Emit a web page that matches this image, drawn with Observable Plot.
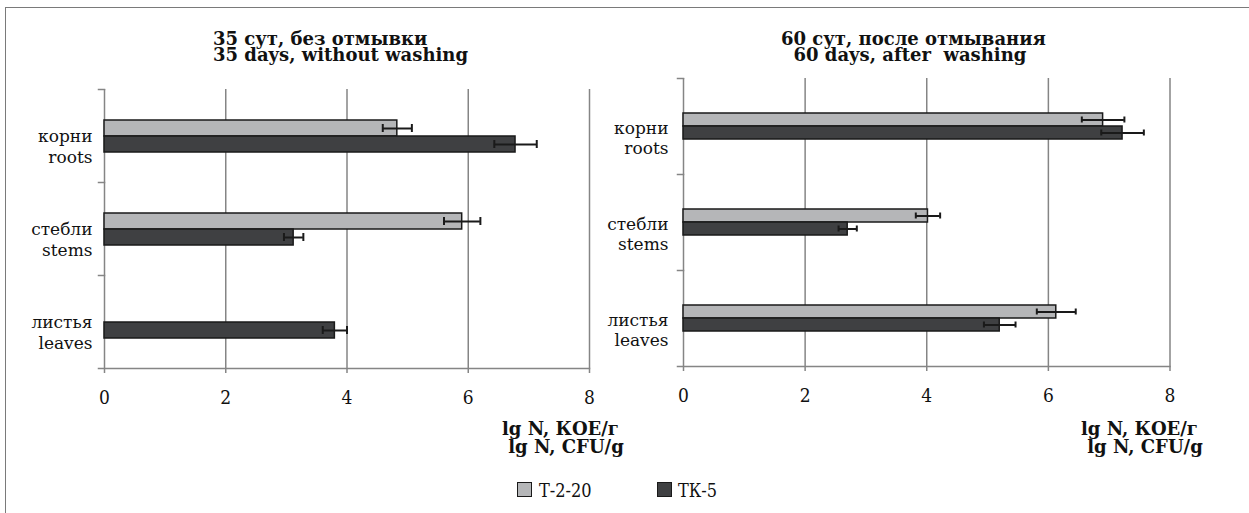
<!DOCTYPE html>
<html><head><meta charset="utf-8">
<script src="https://cdn.jsdelivr.net/npm/d3@7"></script>
<script src="https://cdn.jsdelivr.net/npm/@observablehq/plot@0.6"></script>
<style>
body{margin:0;background:#fff;}
#root{position:relative;width:1249px;height:513px;overflow:hidden;font-family:"DejaVu Serif Condensed","DejaVu Serif",serif;color:#111;background:#fff;}
.frame{position:absolute;left:5px;top:7px;width:1300px;height:600px;border-left:1.5px solid #7a7a7a;border-top:1.5px solid #7a7a7a;}
.line{position:absolute;white-space:pre;font-family:"DejaVu Serif",serif;font-weight:bold;}
.title{font-size:18px;line-height:16px;}
.axlab{font-size:18px;line-height:18px;}
.panel{position:absolute;}
.sw{position:absolute;width:13px;height:13px;border:1.5px solid #1a1a1a;}
.legtx{position:absolute;font-size:18px;line-height:18px;white-space:pre;}
</style></head>
<body><div id="root"><div class="frame"></div></div>
<script>
// ---- data ----
const categoriesRu = ["корни", "стебли", "листья"];
const categoriesEn = ["roots", "stems", "leaves"];
const series = ["Т-2-20", "ТК-5"];
const seriesColors = ["#b5b6b8", "#3f4042"];
const xTicks = [0, 2, 4, 6, 8];

// panel 1: 35 days, without washing
const p1_T220 = [4.83, 5.9, null];
const p1_T220_err = [0.24, 0.3, null];
const p1_TK5 = [6.78, 3.12, 3.8];
const p1_TK5_err = [0.35, 0.16, 0.2];

// panel 2: 60 days, after washing
const p2_T220 = [6.9, 4.02, 6.13];
const p2_T220_err = [0.35, 0.2, 0.32];
const p2_TK5 = [7.22, 2.7, 5.2];
const p2_TK5_err = [0.35, 0.15, 0.26];

const titles = ["35 сут, без отмывки\n35 days, without washing", "60 сут, после отмывания\n  60 days, after  washing"];
const axisLabel = "lg N, КОЕ/г\n lg N, CFU/g";

function rowsFor(a, ae, b, be) {
  const rows = [];
  categoriesEn.forEach((c, i) => {
    if (a[i] != null) rows.push({category: c, series: series[0], value: a[i], err: ae[i]});
    if (b[i] != null) rows.push({category: c, series: series[1], value: b[i], err: be[i]});
  });
  return rows;
}

function panel(rows, g) {
  const plotW = g.width - g.ml - g.mr;
  const ink = "#1a1a1a", grid = "#858585";
  return Plot.plot({
    width: g.width, height: g.height,
    marginLeft: g.ml, marginRight: g.mr, marginTop: g.mt, marginBottom: g.mb,
    style: {fontFamily: '"DejaVu Serif Condensed","DejaVu Serif",serif', fontSize: "19px", color: "#111", background: "transparent", overflow: "visible"},
    x: {domain: [0, 8]},
    y: {domain: series, axis: null, paddingInner: 0, paddingOuter: g.po},
    fy: {domain: categoriesEn, axis: null, padding: 0},
    color: {domain: series, range: seriesColors},
    marks: [
      Plot.ruleX(xTicks.slice(1), {stroke: grid, strokeWidth: 1.5}),
      Plot.ruleX([0], {stroke: grid, strokeWidth: 1.5}),
      Plot.frame({anchor: "top", stroke: grid, strokeWidth: 1.5, insetLeft: -6, insetRight: plotW}),
      Plot.frame({anchor: "bottom", facetAnchor: "bottom", stroke: grid, strokeWidth: 1.5, insetLeft: -6}),
      Plot.axisX({ticks: xTicks, label: null, tickSize: 5, tickPadding: 17, stroke: grid, strokeWidth: 1.5, fill: "#111", fontSize: 19, tickFormat: d => String(d)}),
      Plot.barX(rows, {fy: "category", y: "series", x: "value", fill: "series", stroke: ink, strokeWidth: 1.5}),
      Plot.ruleY(rows, {fy: "category", y: "series", x1: d => d.value - d.err, x2: d => d.value + d.err, stroke: ink, strokeWidth: 2}),
      Plot.tickX(rows, {fy: "category", y: "series", x: d => d.value - d.err, stroke: ink, strokeWidth: 2, insetTop: g.cap, insetBottom: g.cap}),
      Plot.tickX(rows, {fy: "category", y: "series", x: d => d.value + d.err, stroke: ink, strokeWidth: 2, insetTop: g.cap, insetBottom: g.cap}),
      Plot.text(categoriesEn, {fy: d => d, text: (d, i) => categoriesRu[i] + "\n" + d, frameAnchor: "left", textAnchor: "end", dx: g.dx, dy: g.dy, lineHeight: 1.2, fontSize: 17, fontFamily: '"DejaVu Serif",serif', fill: "#111"})
    ]
  });
}

const root = document.getElementById("root");
function add(el, css) { Object.assign(el.style, css); root.appendChild(el); return el; }

const g1 = {width: 620, height: 360, ml: 104, mr: 31, mt: 28, mb: 52, po: 1.83, cap: 4, dx: -12, dy: 10};
const g2 = {width: 620, height: 369, ml: 83, mr: 50.5, mt: 27, mb: 52, po: 2.45, cap: 3.5, dx: -15, dy: 11};

const s1 = panel(rowsFor(p1_T220, p1_T220_err, p1_TK5, p1_TK5_err), g1);
s1.classList.add("panel"); add(s1, {left: "0px", top: "60px"});
const s2 = panel(rowsFor(p2_T220, p2_T220_err, p2_TK5, p2_TK5_err), g2);
s2.classList.add("panel"); add(s2, {left: "600px", top: "50px"});

// panel titles
[[213, 31], [781, 31]].forEach(([l, t], i) => {
  const d = document.createElement("div");
  d.className = "line title"; d.textContent = titles[i];
  add(d, {left: l + "px", top: t + "px"});
});
// x-axis titles
[[502, 420], [1081, 420]].forEach(([l, t]) => {
  const d = document.createElement("div");
  d.className = "line axlab"; d.textContent = axisLabel;
  add(d, {left: l + "px", top: t + "px"});
});

// legend
[[517, 539], [657, 678]].forEach(([sx, tx], i) => {
  const sw = document.createElement("div"); sw.className = "sw";
  add(sw, {left: sx + "px", top: "482px", background: seriesColors[i]});
  const t = document.createElement("div"); t.className = "legtx"; t.textContent = series[i];
  add(t, {left: tx + "px", top: "482px"});
});
</script>
</body></html>
